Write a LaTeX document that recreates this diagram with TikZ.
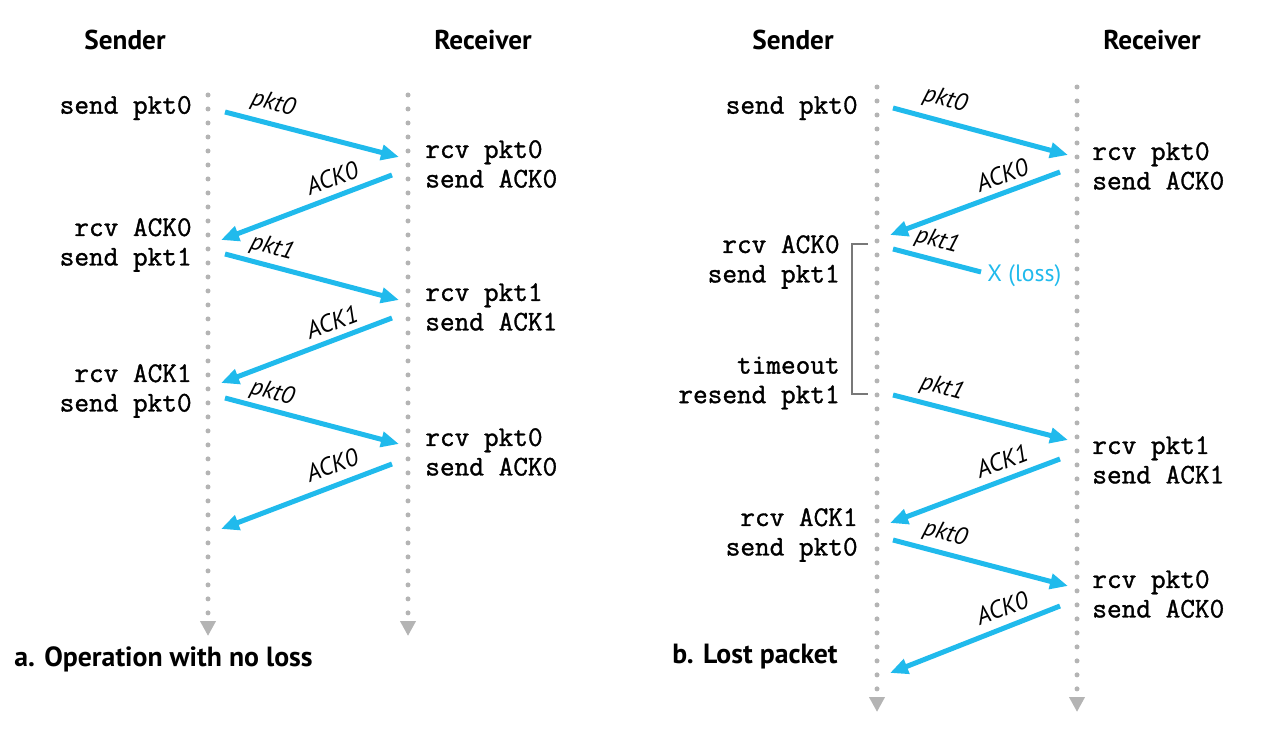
\documentclass[tikz,border=0pt]{standalone}
\usepackage{fontspec}
\setmainfont{PT Sans}
\newfontfamily\evtfont[FakeBold=1.2]{Latin Modern Mono}
\usetikzlibrary{arrows.meta}
\definecolor{pktblue}{RGB}{32,186,236}
\definecolor{dotgray}{RGB}{180,180,180}
\definecolor{bracketgray}{RGB}{120,120,120}
\tikzset{
  timeline/.style={dotgray, line width=0.1cm, dash pattern=on 0pt off 0.28cm, line cap=round,
    -{Triangle[length=0.3cm,width=0.3cm,line cap=butt]}},
  msgarrow/.style={pktblue, line width=0.1cm, -{Triangle[length=0.36cm,width=0.3cm]}},
  lostarrow/.style={pktblue, line width=0.1cm},
  head/.style={font=\fontsize{15.5}{18}\selectfont\bfseries},
  caption/.style={font=\fontsize{15.8}{18}\selectfont\bfseries, anchor=west, inner sep=0pt},
  evt/.style={font=\evtfont\fontsize{16.2}{16.8}\selectfont, inner sep=0pt},
  sndevt/.style={evt, align=right, anchor=east},
  rcvevt/.style={evt, align=left, anchor=west},
  msglabel/.style={font=\fontsize{14}{16}\selectfont\itshape, inner sep=0pt}
}
\begin{document}
\begin{tikzpicture}[x=0.02cm, y=-0.02cm]
\useasboundingbox (0,0) rectangle (1266,732);
% a. no loss
\node[head] (aS) at (125,40) {Sender};
\node[head] (aR) at (483,40) {Receiver};
\coordinate (aStop) at (208,95);
\coordinate (aSbot) at (208,636);
\coordinate (aRtop) at (408,95);
\coordinate (aRbot) at (408,636);
\draw[timeline] (aStop) -- (aSbot); % sender time line
\draw[timeline] (aRtop) -- (aRbot); % receiver time line
% messages
\coordinate (a1s) at (225,112); \coordinate (a1e) at (399,157);
\coordinate (a2s) at (392,175); \coordinate (a2e) at (221,240);
\coordinate (a3s) at (225,254); \coordinate (a3e) at (399,300);
\coordinate (a4s) at (392,318); \coordinate (a4e) at (221,383);
\coordinate (a5s) at (225,398); \coordinate (a5e) at (399,444);
\coordinate (a6s) at (392,464); \coordinate (a6e) at (221,529);
\draw[msgarrow] (a1s) -- (a1e);
\draw[msgarrow] (a2s) -- (a2e);
\draw[msgarrow] (a3s) -- (a3e);
\draw[msgarrow] (a4s) -- (a4e);
\draw[msgarrow] (a5s) -- (a5e);
\draw[msgarrow] (a6s) -- (a6e);
\node[msglabel, rotate=-15] (a1l) at (273,104) {pkt0};
\node[msglabel, rotate=21] (a2l) at (332,178) {ACK0};
\node[msglabel, rotate=-15] (a3l) at (272,248) {pkt1};
\node[msglabel, rotate=21] (a4l) at (332,322) {ACK1};
\node[msglabel, rotate=-15] (a5l) at (272,393) {pkt0};
\node[msglabel, rotate=21] (a6l) at (332,465) {ACK0};
% events
\node[sndevt] (aE1) at (192,108) {send pkt0};
\node[rcvevt] (aE2) at (425,164) {rcv pkt0\\send ACK0};
\node[sndevt] (aE3) at (192,245) {rcv ACK0\\send pkt1};
\node[rcvevt] (aE4) at (425,307) {rcv pkt1\\send ACK1};
\node[sndevt] (aE5) at (192,391) {rcv ACK1\\send pkt0};
\node[rcvevt] (aE6) at (425,452) {rcv pkt0\\send ACK0};
\node[caption] (aCap) at (14,659) {a. Operation with no loss};
% b. lost packet
\node[head] (bS) at (793,40) {Sender};
\node[head] (bR) at (1152,40) {Receiver};
\coordinate (bStop) at (877,87);
\coordinate (bSbot) at (877,712);
\coordinate (bRtop) at (1077,87);
\coordinate (bRbot) at (1077,712);
\draw[timeline] (bStop) -- (bSbot); % sender time line
\draw[timeline] (bRtop) -- (bRbot); % receiver time line
% messages
\coordinate (b1s) at (893,108); \coordinate (b1e) at (1068,155);
\coordinate (b2s) at (1060,172); \coordinate (b2e) at (890,235);
\coordinate (b3s) at (893,249); \coordinate (b3e) at (981,272);
\coordinate (b4s) at (893,395); \coordinate (b4e) at (1068,440);
\coordinate (b5s) at (1060,459); \coordinate (b5e) at (890,523);
\coordinate (b6s) at (893,540); \coordinate (b6e) at (1068,586);
\coordinate (b7s) at (1060,606); \coordinate (b7e) at (890,673);
\draw[msgarrow] (b1s) -- (b1e);
\draw[msgarrow] (b2s) -- (b2e);
\draw[lostarrow] (b3s) -- (b3e);
\draw[msgarrow] (b4s) -- (b4e);
\draw[msgarrow] (b5s) -- (b5e);
\draw[msgarrow] (b6s) -- (b6e);
\draw[msgarrow] (b7s) -- (b7e);
\node[msglabel, rotate=-15] (b1l) at (945,100) {pkt0};
\node[msglabel, rotate=21] (b2l) at (1002,175) {ACK0};
\node[msglabel, rotate=-15] (b3l) at (937,241) {pkt1};
\node[msglabel, rotate=-15] (b4l) at (942,388) {pkt1};
\node[msglabel, rotate=21] (b5l) at (1002,461) {ACK1};
\node[msglabel, rotate=-15] (b6l) at (945,534) {pkt0};
\node[msglabel, rotate=21] (b7l) at (1002,608) {ACK0};
\node[msglabel, font=\fontsize{13.5}{16}\selectfont, text=pktblue, anchor=west] (bLoss) at (987,276) {X (loss)};
% events
\node[sndevt] (bE1) at (858,108) {send pkt0};
\node[rcvevt] (bE2) at (1092,166) {rcv pkt0\\send ACK0};
\node[sndevt] (bE3) at (840,262) {rcv ACK0\\send pkt1};
\node[sndevt] (bE4) at (840,383) {timeout\\resend pkt1};
\node[rcvevt] (bE5) at (1092,460) {rcv pkt1\\send ACK1};
\node[sndevt] (bE6) at (858,535) {rcv ACK1\\send pkt0};
\node[rcvevt] (bE7) at (1092,594) {rcv pkt0\\send ACK0};
% timeout bracket
\coordinate (brT) at (868,244);
\coordinate (brB) at (868,394);
\draw[bracketgray, line width=0.6pt] (brT) -- ++(-16,0) |- (brB);
\node[caption] (bCap) at (672,657) {b. Lost packet};
\end{tikzpicture}
\end{document}
